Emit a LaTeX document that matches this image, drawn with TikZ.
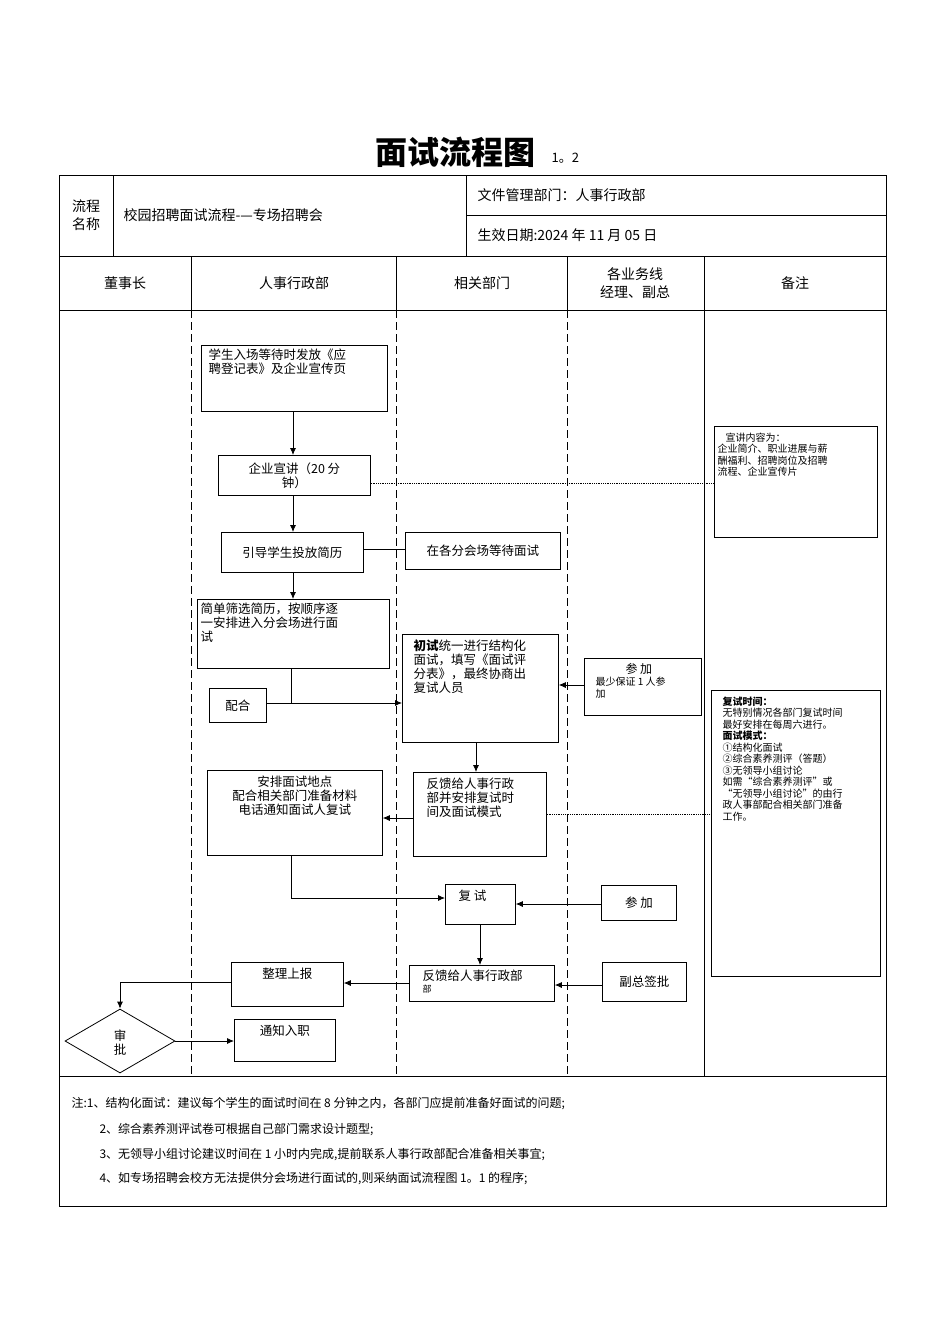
\documentclass[tikz,border=0pt]{standalone}
\usepackage{fontspec}
\setmainfont{Noto Sans CJK SC}
\usetikzlibrary{shapes.geometric,arrows.meta}
\begin{document}
\begin{tikzpicture}[x=1pt,y=-1pt,
  box/.style={draw,thick,anchor=north west,inner sep=0pt},
  txt/.style={font=\fontsize{12.5}{14}\selectfont,align=left},
  hd/.style={font=\fontsize{14}{18}\selectfont,align=center},
  rem/.style={font=\fontsize{10}{11.5}\selectfont,align=left},
  arr/.style={thick,-{Latex[length=7pt,width=6pt]}},
  ln/.style={thick},
  dot/.style={thick,densely dotted}]
\useasboundingbox (0,0) rectangle (950,1344);
% title
\node (title) at (455,152) {\fontsize{32}{34}\selectfont\bfseries 面试流程图};
\node[anchor=west] (ver) at (548,158) {\fontsize{13}{14}\selectfont 1。2};
% table
\draw (59,175) rectangle (886,1206);
\draw (113,175) -- (113,256);
\draw (466,175) -- (466,256);
\draw (466,215) -- (886,215);
\draw (59,256) -- (886,256);
\draw (59,310) -- (886,310);
\draw (59,1076) -- (886,1076);
\foreach \x in {191,396,567} {\draw (\x,256) -- (\x,310); \draw[dash pattern=on 8pt off 4pt] (\x,310) -- (\x,1076);}
\draw (704,256) -- (704,1076);
\node[hd] (h0) at (86,215) {流程\\名称};
\node[hd,anchor=west] (h1) at (120,215) {校园招聘面试流程-—专场招聘会};
\node[hd,anchor=west] (h2) at (474,195) {文件管理部门：人事行政部};
\node[hd,anchor=west] (h3) at (474,235) {生效日期:2024 年 11 月 05 日};
\node[hd] (c1) at (125,283) {董事长};
\node[hd] (c2) at (294,283) {人事行政部};
\node[hd] (c3) at (482,283) {相关部门};
\node[hd] (c4) at (635,283) {各业务线\\经理、副总};
\node[hd] (c5) at (795,283) {备注};
% boxes
\node[box,minimum width=186pt,minimum height=66pt,label={[txt,text width=160pt,anchor=north west]north west:\hspace*{4pt}学生入场等待时发放《应\\\hspace*{4pt}聘登记表》及企业宣传页}] (n1) at (201,345) {};
\node[box,minimum width=152pt,minimum height=40pt,txt,align=center] (n2) at (218,455) {企业宣讲（20 分\\钟）};
\node[box,minimum width=142pt,minimum height=40pt,txt] (n3) at (221,532) {引导学生投放简历};
\node[box,minimum width=155pt,minimum height=37pt,txt] (n4) at (405,532) {在各分会场等待面试};
\node[box,minimum width=192pt,minimum height=69pt,label={[txt,text width=180pt,anchor=north west]north west:简单筛选简历，按顺序逐\\一安排进入分会场进行面\\试}] (n5) at (197,599) {};
\node[box,minimum width=57pt,minimum height=34pt,txt] (n6) at (209,688) {配合};
\node[box,minimum width=156pt,minimum height=108pt,label={[txt,text width=148pt,anchor=north west,yshift=-2pt]north west:\hspace*{8pt}\textbf{初试}统一进行结构化\\\hspace*{8pt}面试，填写《面试评\\\hspace*{8pt}分表》，最终协商出\\\hspace*{8pt}复试人员}] (n7) at (402,634) {};
\node[box,minimum width=117pt,minimum height=57pt,label={[align=left,anchor=north west,yshift=-2pt]north west:\hspace*{38pt}\fontsize{12}{14}\selectfont 参\ 加\\\hspace*{8pt}\fontsize{10}{12}\selectfont 最少保证 1 人参\\\hspace*{8pt}\fontsize{10}{12}\selectfont 加}] (n8) at (584,658) {};
\node[box,minimum width=175pt,minimum height=85pt,label={[txt,align=center,anchor=north,yshift=-2pt]north:安排面试地点\\配合相关部门准备材料\\电话通知面试人复试}] (n9) at (207,770) {};
\node[box,minimum width=133pt,minimum height=84pt,label={[txt,text width=125pt,anchor=north west,yshift=-2pt]north west:\hspace*{10pt}反馈给人事行政\\\hspace*{10pt}部并安排复试时\\\hspace*{10pt}间及面试模式}] (n10) at (413,772) {};
\node[box,minimum width=70pt,minimum height=40pt,label={[txt,anchor=north west,yshift=-2pt]north west:\hspace*{10pt}复\ 试}] (n11) at (445,884) {};
\node[box,minimum width=75pt,minimum height=35pt,txt] (n12) at (601,885) {参\ 加};
\node[box,minimum width=145pt,minimum height=36pt,label={[align=left,anchor=north west,yshift=-1pt]north west:\hspace*{10pt}\fontsize{12.5}{14}\selectfont 反馈给人事行政部\\\hspace*{10pt}\fontsize{9}{9}\selectfont 部}] (n13) at (409,965) {};
\node[box,minimum width=84pt,minimum height=39pt,txt] (n14) at (602,962) {副总签批};
\node[box,minimum width=112pt,minimum height=44pt,label={[txt,anchor=north,yshift=-2pt]north:整理上报}] (n15) at (231,962) {};
\node[draw,thick,diamond,aspect=1.75,minimum width=110pt,minimum height=64pt,inner sep=0pt,txt,align=center] (n16) at (120,1041) {\\审\\批};
\node[box,minimum width=101pt,minimum height=42pt,label={[txt,anchor=north,yshift=-2pt]north:通知入职}] (n17) at (234,1019) {};
\node[box,minimum width=163pt,minimum height=111pt,label={[rem,text width=150pt,anchor=north west,yshift=-3pt]north west:\hspace*{8pt}宣讲内容为：\\企业简介、职业进展与薪\\酬福利、招聘岗位及招聘\\流程、企业宣传片}] (r1) at (714,426) {};
\node[box,minimum width=169pt,minimum height=286pt,label={[rem,text width=155pt,anchor=north west,xshift=8pt,yshift=-3pt]north west:\textbf{复试时间：}\\无特别情况各部门复试时间\\最好安排在每周六进行。\\\textbf{面试模式：}\\①结构化面试\\②综合素养测评（答题）\\③无领导小组讨论\\如需“综合素养测评”或\\“无领导小组讨论”的由行\\政人事部配合相关部门准备\\工作。}] (r2) at (711,690) {};
% connectors
\draw[arr] (n1.south -| 293,0) -- (n2.north -| 293,0);
\draw[arr] (n2.south -| 293,0) -- (n3.north -| 293,0);
\draw[ln] (n3.east |- 0,549) -- (n4.west |- 0,549);
\draw[arr] (n3.south -| 293,0) -- (n5.north -| 293,0);
\coordinate (j1) at (291,703);
\draw[ln] (n5.south -| 291,0) -- (j1);
\draw[ln] (n6.east |- j1) -- (j1);
\draw[arr] (j1) -- (n7.west |- j1);
\draw[arr] (n8.west |- 0,685) -- (n7.east |- 0,685);
\draw[arr] (n7.south -| 476,0) -- (n10.north -| 476,0);
\draw[arr] (n10.west |- 0,818) -- (n9.east |- 0,818);
\draw[dot] (n10.east |- 0,814) -- (r2.west |- 0,814);
\draw[dot] (n2.east |- 0,483) -- (r1.west |- 0,483);
\coordinate (j2) at (291,898);
\draw[ln] (n9.south -| j2) -- (j2);
\draw[arr] (j2) -- (n11.west |- j2);
\draw[arr] (n12.west |- 0,904) -- (n11.east |- 0,904);
\draw[arr] (n11.south -| 480,0) -- (n13.north -| 480,0);
\draw[arr] (n14.west |- 0,985) -- (n13.east |- 0,985);
\draw[arr] (n13.west |- 0,983) -- (n15.east |- 0,983);
\coordinate (j3) at (120,982);
\draw[ln] (n15.west |- j3) -- (j3);
\draw[arr] (j3) -- (n16.north);
\draw[arr] (n16.east) -- (n17.west |- n16.east);
% notes
\node[anchor=west,font=\fontsize{12}{14}\selectfont] (t1) at (68,1104) {注:1、结构化面试：建议每个学生的面试时间在 8 分钟之内，各部门应提前准备好面试的问题;};
\node[anchor=west,font=\fontsize{12}{14}\selectfont] (t2) at (96,1130) {2、综合素养测评试卷可根据自己部门需求设计题型;};
\node[anchor=west,font=\fontsize{12}{14}\selectfont] (t3) at (96,1155) {3、无领导小组讨论建议时间在 1 小时内完成,提前联系人事行政部配合准备相关事宜;};
\node[anchor=west,font=\fontsize{12}{14}\selectfont] (t4) at (96,1179) {4、如专场招聘会校方无法提供分会场进行面试的,则采纳面试流程图 1。1 的程序;};
\end{tikzpicture}
\end{document}
